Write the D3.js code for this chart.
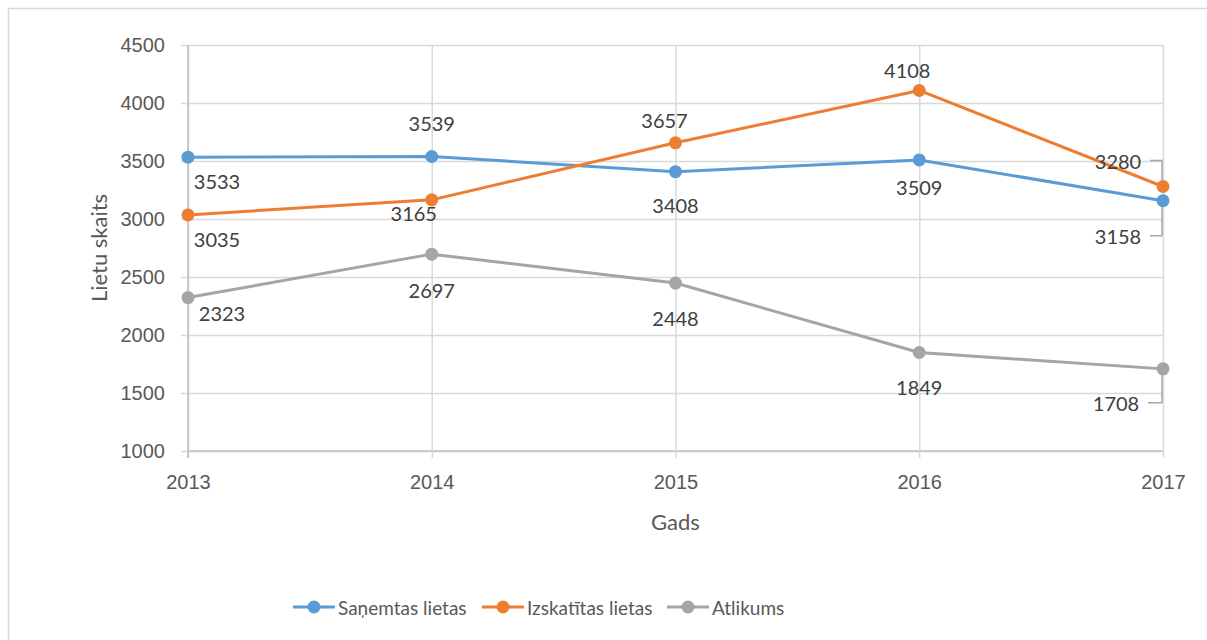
<!DOCTYPE html>
<html>
<head>
<meta charset="utf-8">
<script src="https://cdn.jsdelivr.net/npm/d3@7"></script>
<style>
  body { margin: 0; background: #fff; }
  svg { display: block; font-family: Lato, "Open Sans", sans-serif; }
</style>
</head>
<body>
<svg id="chart" width="1207" height="640"></svg>
<script>
const years = ["2013", "2014", "2015", "2016", "2017"];
const yTicks = [1000, 1500, 2000, 2500, 3000, 3500, 4000, 4500];
const sanemtas = [3533, 3539, 3408, 3509, 3158];
const izskatitas = [3035, 3165, 3657, 4108, 3280];
const atlikums = [2323, 2697, 2448, 1849, 1708];

// label offsets relative to the point (center of text)
const sanemtasLabelPos = [[29, 24], [0, -33], [0, 33], [0, 27], [-45, 35]];
const izskatitasLabelPos = [[29, 24], [-18, 13], [-11, -23], [-12, -20], [-45, -26]];
const atlikumsLabelPos = [[34, 15], [0, 36], [0, 35], [0, 34], [-47, 34]];

const series = [
  { name: "Saņemtas lietas", values: sanemtas, color: "#5B9BD5", labels: sanemtasLabelPos },
  { name: "Izskatītas lietas", values: izskatitas, color: "#ED7D31", labels: izskatitasLabelPos },
  { name: "Atlikums", values: atlikums, color: "#A5A5A5", labels: atlikumsLabelPos }
];

const svg = d3.select("#chart");
const textColor = "#595959";
const gridColor = "#D9D9D9";
const axisColor = "#BFBFBF";

// outer border (runs off the bottom/right of the window)
svg.append("rect")
  .attr("x", 8.5).attr("y", 8.5)
  .attr("width", 1230).attr("height", 660)
  .attr("fill", "none")
  .attr("stroke", gridColor)
  .attr("stroke-width", 1.5);

const x = d3.scalePoint()
  .domain(years)
  .range([188, 1163]);

const y = d3.scaleLinear()
  .domain([1000, 4500])
  .range([451, 45]);

// horizontal gridlines + y axis
const yAxis = svg.append("g")
  .attr("transform", "translate(188,0)")
  .call(d3.axisLeft(y).tickValues(yTicks).tickSize(7).tickPadding(16).tickFormat(d3.format("d")));
yAxis.select(".domain").remove();
yAxis.selectAll(".tick line")
  .attr("x2", 1163 - 188)
  .attr("x1", -7)
  .attr("stroke", gridColor)
  .attr("stroke-width", 1.5);
yAxis.selectAll(".tick text")
  .attr("fill", textColor)
  .style("font-size", "20px");

// vertical gridlines + x axis
const xAxis = svg.append("g")
  .attr("transform", "translate(0,451)")
  .call(d3.axisBottom(x).tickSize(7).tickPadding(17));
xAxis.select(".domain").attr("stroke", axisColor).attr("stroke-width", 1.5)
  .attr("d", `M${x.range()[0]},0H${x.range()[1]}`);
xAxis.selectAll(".tick line")
  .attr("y1", y(4500) - 451)
  .attr("y2", 7)
  .attr("stroke", gridColor)
  .attr("stroke-width", 1.5);
xAxis.selectAll(".tick text")
  .attr("fill", textColor)
  .style("font-size", "20px");

// y axis line
svg.append("line")
  .attr("x1", x(years[0])).attr("x2", x(years[0]))
  .attr("y1", y(4500)).attr("y2", y(1000) + 7)
  .attr("stroke", axisColor).attr("stroke-width", 1.5);

// axis titles
svg.append("text")
  .attr("transform", `translate(98,${(y(4500) + y(1000)) / 2}) rotate(-90)`)
  .attr("text-anchor", "middle")
  .attr("dominant-baseline", "central")
  .attr("fill", textColor)
  .style("font-size", "22px")
  .text("Lietu skaits");

svg.append("text")
  .attr("x", (x.range()[0] + x.range()[1]) / 2)
  .attr("y", 521)
  .attr("text-anchor", "middle")
  .attr("dominant-baseline", "central")
  .attr("fill", textColor)
  .style("font-size", "22px")
  .text("Gads");

const line = d3.line()
  .x((d, i) => x(years[i]))
  .y(d => y(d));

series.forEach(s => {
  svg.append("path")
    .datum(s.values)
    .attr("fill", "none")
    .attr("stroke", s.color)
    .attr("stroke-width", 3)
    .attr("stroke-linejoin", "round")
    .attr("d", line);
});

series.forEach(s => {
  svg.selectAll(null)
    .data(s.values)
    .enter()
    .append("circle")
    .attr("cx", (d, i) => x(years[i]))
    .attr("cy", d => y(d))
    .attr("r", 6.5)
    .attr("fill", s.color);
});

// leader lines for the last labels
series.forEach(s => {
  const i = s.values.length - 1;
  const px = x(years[i]);
  const py = y(s.values[i]);
  const [dx, dy] = s.labels[i];
  const lx = px + dx + 32;
  const ly = py + dy;
  const endY = dy > 0 ? py + 6 : py - 6;
  svg.append("path")
    .attr("d", `M${lx},${ly}H${px - 1}V${endY}`)
    .attr("fill", "none")
    .attr("stroke", "#A6A6A6")
    .attr("stroke-width", 1.5);
});

// data labels
series.forEach(s => {
  svg.selectAll(null)
    .data(s.values)
    .enter()
    .append("text")
    .attr("x", (d, i) => x(years[i]) + s.labels[i][0])
    .attr("y", (d, i) => y(d) + s.labels[i][1])
    .attr("text-anchor", "middle")
    .attr("dominant-baseline", "central")
    .attr("fill", "#404040")
    .style("font-size", "20px")
    .text(d => d);
});

// legend
const legendX = [293, 482, 667];
const legend = svg.append("g");
series.forEach((s, i) => {
  const g = legend.append("g").attr("transform", `translate(${legendX[i]},607)`);
  g.append("line")
    .attr("x1", 0).attr("x2", 42)
    .attr("stroke", s.color).attr("stroke-width", 3);
  g.append("circle")
    .attr("cx", 21).attr("r", 6.5).attr("fill", s.color);
  g.append("text")
    .attr("x", 45)
    .attr("dominant-baseline", "central")
    .attr("fill", textColor)
    .style("font-size", "19px")
    .text(s.name);
});
</script>
</body>
</html>
